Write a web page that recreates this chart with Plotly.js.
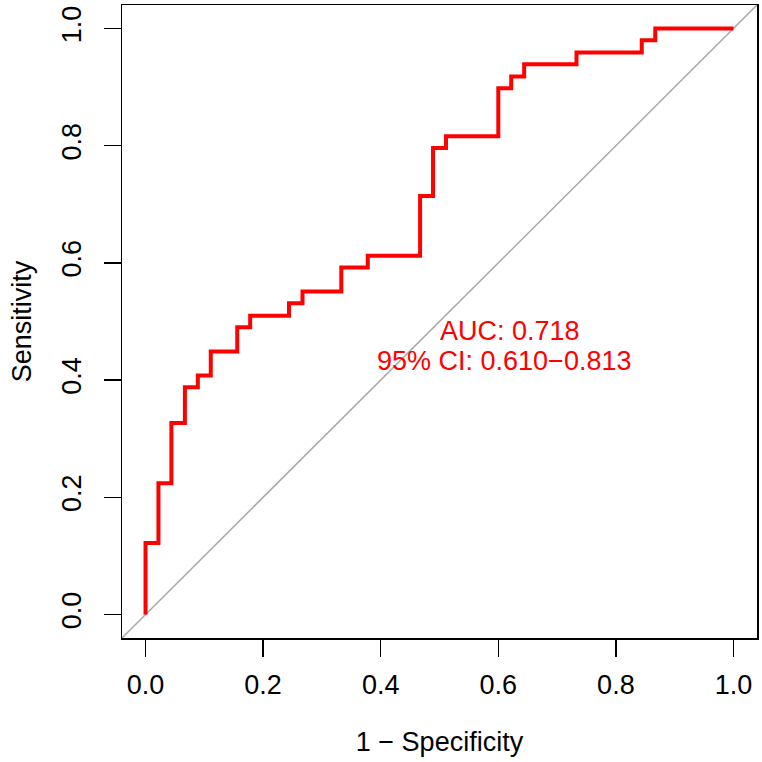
<!DOCTYPE html>
<html>
<head>
<meta charset="utf-8">
<script src="https://cdn.plot.ly/plotly-3.0.1.min.js"></script>
<style>html,body{margin:0;padding:0;background:#fff;}#chart{width:762px;height:762px;}</style>
</head>
<body>
<div id="chart"></div>
<script>
// ROC curve vertices (1 - specificity, sensitivity), drawn as vertical-then-horizontal steps
const fpr = [0, 0.022, 0.044, 0.067, 0.089, 0.111, 0.156, 0.178, 0.244, 0.267, 0.333, 0.378, 0.467, 0.489, 0.511, 0.600, 0.622, 0.644, 0.733, 0.844, 0.867, 1.0];
const tpr = [0, 0.122, 0.224, 0.327, 0.388, 0.408, 0.449, 0.490, 0.510, 0.531, 0.551, 0.592, 0.612, 0.714, 0.796, 0.816, 0.898, 0.918, 0.939, 0.959, 0.980, 1.0];
const diagX = [-0.04, 1.04];
const diagY = [-0.04, 1.04];
const tickVals = [0, 0.2, 0.4, 0.6, 0.8, 1.0];
const tickText = ["0.0", "0.2", "0.4", "0.6", "0.8", "1.0"];
const aucLabel = "AUC: 0.718";
const ciLabel = "95% CI: 0.610\u22120.813";
const xTitle = "1 \u2212 Specificity";
const yTitle = "Sensitivity";

const FONT = "Liberation Sans, Arial, sans-serif";

const traces = [
  {x: diagX, y: diagY, mode: "lines", line: {color: "#a8a8a8", width: 1.5}, hoverinfo: "skip"},
  {x: fpr, y: tpr, mode: "lines", line: {color: "#ff0000", width: 4, shape: "vh"}}
];

const axisCommon = {
  range: [-0.04, 1.04],
  tickvals: tickVals,
  ticktext: tickText,
  ticks: "outside",
  ticklen: 17,
  tickwidth: 1.5,
  tickcolor: "#000",
  showline: true,
  mirror: true,
  linecolor: "#000",
  linewidth: 1.5,
  showgrid: false,
  zeroline: false,
  tickfont: {family: FONT, size: 27, color: "#000"},
  automargin: false
};

const layout = {
  width: 762, height: 762,
  margin: {l: 122, r: 5, t: 5, b: 124},
  paper_bgcolor: "#fff",
  plot_bgcolor: "#fff",
  showlegend: false,
  font: {family: FONT, size: 27, color: "#000"},
  xaxis: Object.assign({}, axisCommon, {
    ticklabelstandoff: 5,
    title: {text: xTitle, font: {family: FONT, size: 27, color: "#000"}, standoff: 33}
  }),
  yaxis: Object.assign({}, axisCommon, {
    tickangle: -90,
    ticklabelstandoff: 12,
    title: {text: yTitle, font: {family: FONT, size: 27, color: "#000"}, standoff: 17}
  }),
  annotations: [
    {x: 0.62, y: 0.484, xref: "x", yref: "y", text: aucLabel, showarrow: false,
     font: {family: FONT, size: 27, color: "#ff0000"}, xanchor: "center", yanchor: "middle"},
    {x: 0.61, y: 0.433, xref: "x", yref: "y", text: ciLabel, showarrow: false,
     font: {family: FONT, size: 27, color: "#ff0000"}, xanchor: "center", yanchor: "middle"}
  ]
};

Plotly.newPlot("chart", traces, layout, {displayModeBar: false, staticPlot: true});
</script>
</body>
</html>
